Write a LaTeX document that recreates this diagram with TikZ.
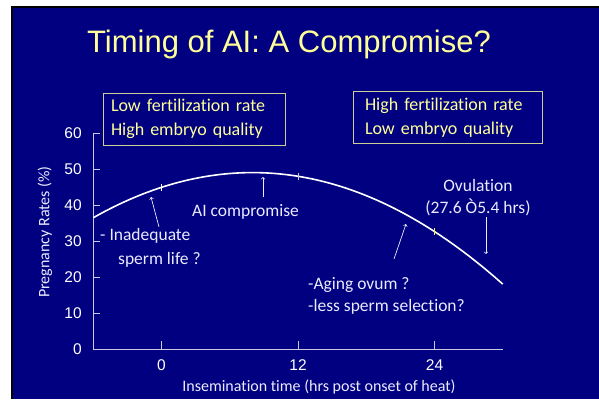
\documentclass[tikz,border=0pt]{standalone}
\usepackage{fontspec}
\setmainfont{Carlito}[Ligatures=NoCommon]
\newfontfamily\arialfont{Liberation Sans}
\usetikzlibrary{arrows,positioning,calc}

\definecolor{slidebg}{RGB}{0,0,128}
\definecolor{titleyellow}{RGB}{255,255,153}
\definecolor{paletext}{RGB}{235,235,255}
\definecolor{axisgray}{RGB}{200,200,225}
\definecolor{boxline}{RGB}{205,205,150}
\definecolor{marky}{RGB}{240,240,80}

\tikzset{
  note/.style={text=paletext, font=\fontsize{17.5}{22}\selectfont, inner sep=0pt},
  infobox/.style={draw=boxline, line width=0.8pt, text=titleyellow, font=\fontsize{18}{24}\selectfont, align=left, minimum height=52pt, inner ysep=0pt},
  ticklabel/.style={text=white, font=\arialfont\fontsize{15.5}{18}\selectfont, inner sep=0pt},
  pointer/.style={->, paletext, line width=0.7pt},
}

\begin{document}
\begin{tikzpicture}[x=1pt,y=1pt]
% Background
\useasboundingbox (0,0) rectangle (599,399);
\fill[white] (0,0) rectangle (599,399);
\fill[black] (11,0) rectangle (599,393);
\fill[slidebg] (13,0) rectangle (599,391);

% Title
\node[anchor=base, text=titleyellow, font=\arialfont\fontsize{31}{36}\selectfont] (title) at (289,346) {Timing of AI: A Compromise?};

% Boxes
\node[infobox, text width=166pt, inner xsep=8pt] (lowbox) at (194,280) {Low fertilization rate\\High embryo quality};
\node[infobox, text width=165pt, inner xsep=12pt] (highbox) at (447.5,281.5) {High fertilization rate\\Low embryo quality};

% Plot
\begin{scope}[shift={(161.5,50)}, x=11.375pt, y=3.6pt]
  \coordinate (origin) at (-6,0);
  \coordinate (xend) at (30,0);
  \coordinate (yend) at (-6,60);
  \draw[axisgray, line width=0.8pt] (yend) -- (origin) -- (xend);
  \foreach \v in {0,10,...,60} {
    \draw[axisgray, line width=0.8pt] (-6,\v) -- ++(0.55,0);
    \node[ticklabel, anchor=east] (ylab\v) at (-7,\v) {\v};
  }
  \foreach \t in {0,12,24} {
    \draw[axisgray, line width=0.8pt] (\t,0) -- ++(0,2.2);
    \node[ticklabel] (xlab\t) at (\t,-4.4) {\t};
  }
  % rate curve
  \draw[white, line width=1.6pt] plot[domain=-6:30, samples=60, smooth] (\x, {49-0.064*(\x-8)^2});
  \foreach \t/\c in {0/white,12/axisgray,24/marky}
    \draw[\c, line width=0.6pt] (\t,{49-0.064*(\t-8)^2-1}) -- ++(0,2);
\end{scope}

% Axis titles
\node[rotate=90, text=paletext, font=\fontsize{16}{18}\selectfont] (ytitle) at (45,167) {Pregnancy Rates (\%)};
\node[text=paletext, font=\fontsize{16}{18}\selectfont] (xtitle) at (319,12) {Insemination time (hrs post onset of heat)};

% Notes
\node[note, anchor=west] (inadA) at (100,163) {- Inadequate};
\node[note, anchor=west] (inadB) at (118,139) {sperm life ?};
\node[note, anchor=west] (aicomp) at (192,187) {AI compromise};
\node[note, align=center] (ovul) at (478,201.5) {Ovulation\\(27.6 Ò5.4 hrs)};
\node[note, align=left, anchor=west] (aging) at (308,103.5) {-Aging ovum ?\\-less sperm selection?};

% Pointers
\coordinate (inadtail) at (159,172);
\coordinate (inadtip) at (151,202);
\coordinate (aitail) at (263,202);
\coordinate (aitip) at (263,222);
\coordinate (ovultail) at (486,182);
\coordinate (ovultip) at (486,145);
\coordinate (agingtail) at (394,140);
\coordinate (agingtip) at (406,175);
\draw[pointer] (inadtail) -- (inadtip);
\draw[pointer] (aitail) -- (aitip);
\draw[pointer] (ovultail) -- (ovultip);
\draw[pointer] (agingtail) -- (agingtip);
\end{tikzpicture}
\end{document}
